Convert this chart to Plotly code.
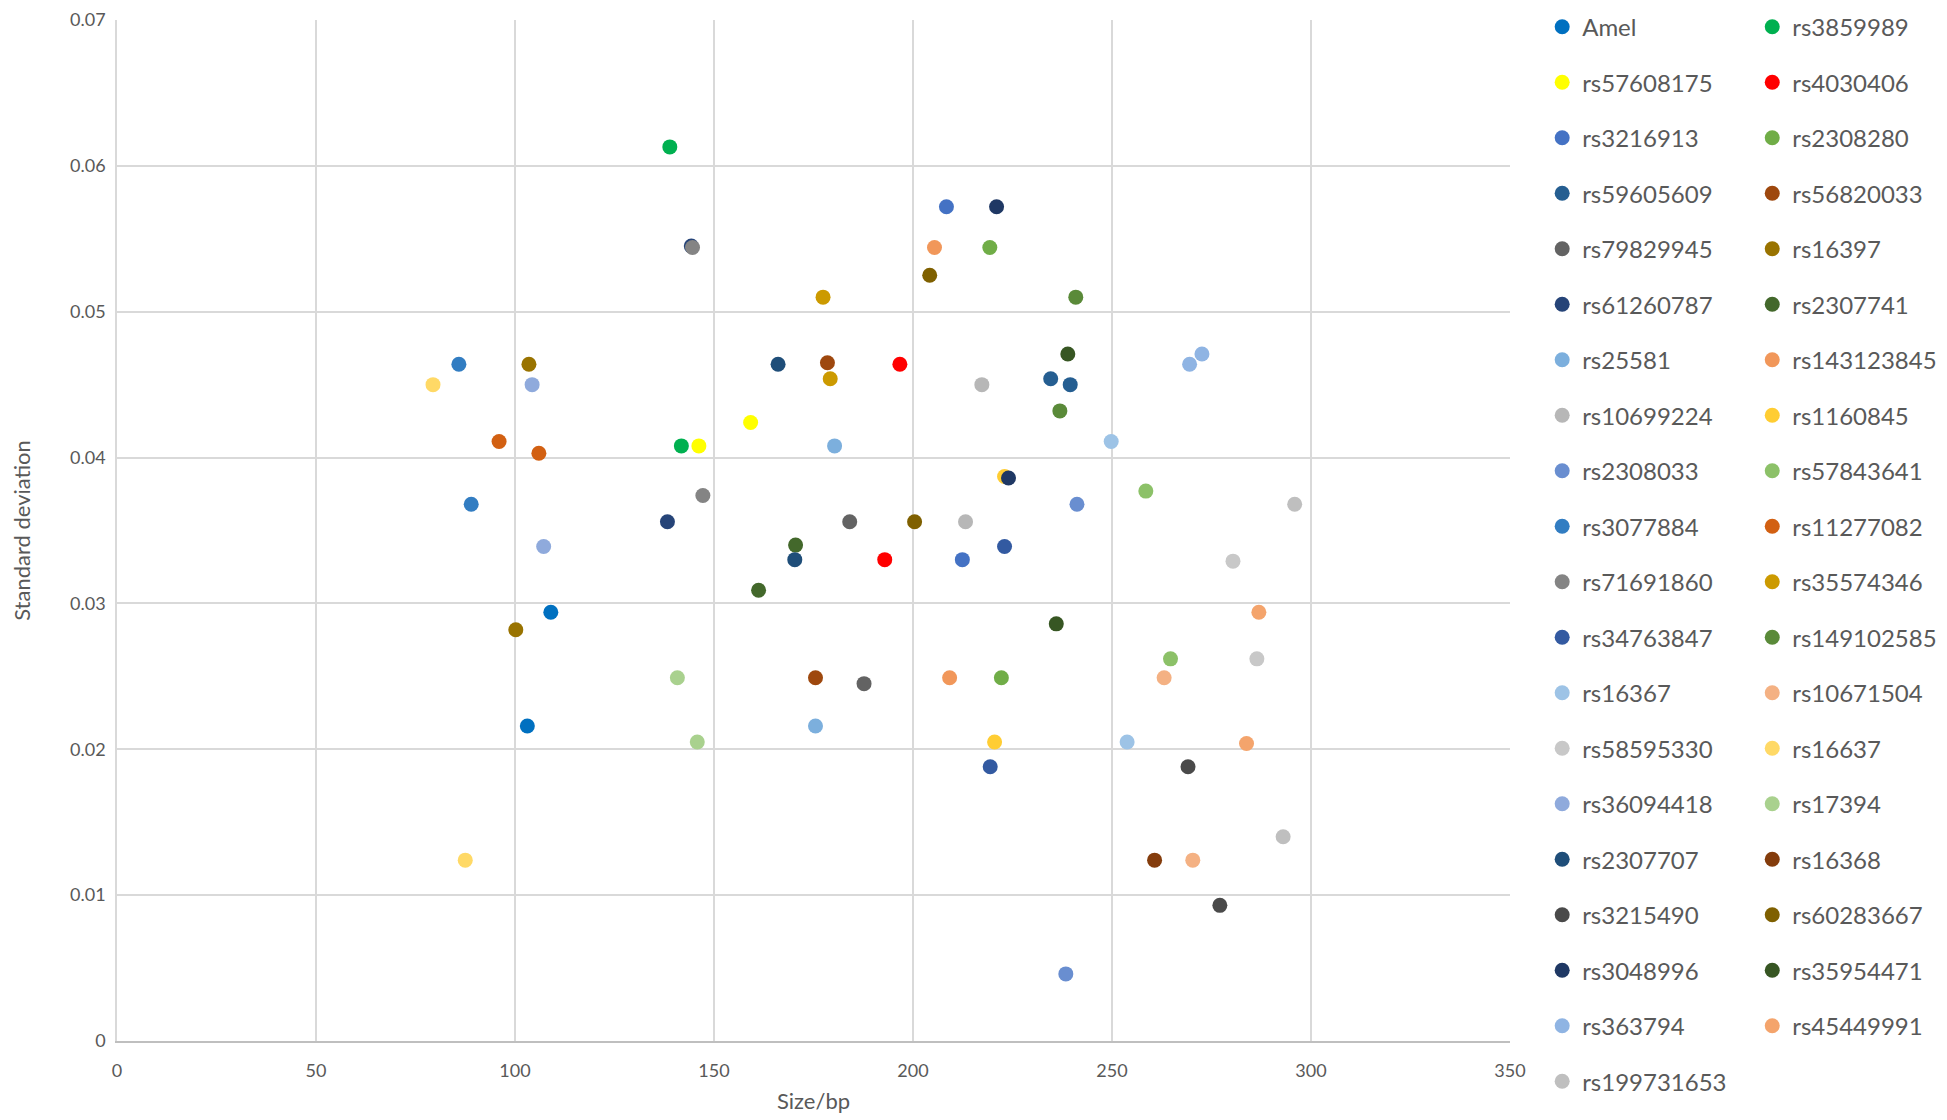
import plotly.graph_objects as go

names = ['Amel', 'rs3859989', 'rs57608175', 'rs4030406', 'rs3216913', 'rs2308280',
         'rs59605609', 'rs56820033', 'rs79829945', 'rs16397', 'rs61260787', 'rs2307741',
         'rs25581', 'rs143123845', 'rs10699224', 'rs1160845', 'rs2308033', 'rs57843641',
         'rs3077884', 'rs11277082', 'rs71691860', 'rs35574346', 'rs34763847', 'rs149102585',
         'rs16367', 'rs10671504', 'rs58595330', 'rs16637', 'rs36094418', 'rs17394',
         'rs2307707', 'rs16368', 'rs3215490', 'rs60283667', 'rs3048996', 'rs35954471',
         'rs363794', 'rs45449991', 'rs199731653']

# allele sizes (bp) per marker
sizes = [[103.1, 109.0], [138.9, 141.8], [146.2, 159.2], [192.9, 196.7], [208.4, 212.4],
         [219.3, 222.2], [234.6, 239.5], [175.5, 178.5], [184.1, 187.7], [100.2, 103.5],
         [138.3, 144.3], [161.2, 170.5], [175.5, 180.3], [205.4, 209.2], [213.2, 217.3],
         [220.5, 223.0], [238.4, 241.2], [258.5, 264.7], [85.9, 89.0], [96.0, 106.0],
         [144.6, 147.2], [177.4, 179.2], [219.4, 223.0], [236.9, 240.9], [249.8, 253.8],
         [263.1, 270.3], [280.4, 286.4], [79.4, 87.5], [104.3, 107.2], [140.8, 145.8],
         [166.1, 170.3], [260.7], [269.1, 277.1], [200.4, 204.2], [221.0, 224.0],
         [236.0, 238.9], [269.5, 272.6], [283.8, 286.9], [293.0, 295.9]]

# standard deviation per allele
sds = [[0.0216, 0.0294], [0.0613, 0.0408], [0.0408, 0.0424], [0.0330, 0.0464], [0.0572, 0.0330],
       [0.0544, 0.0249], [0.0454, 0.0450], [0.0249, 0.0465], [0.0356, 0.0245], [0.0282, 0.0464],
       [0.0356, 0.0545], [0.0309, 0.0340], [0.0216, 0.0408], [0.0544, 0.0249], [0.0356, 0.0450],
       [0.0205, 0.0387], [0.0046, 0.0368], [0.0377, 0.0262], [0.0464, 0.0368], [0.0411, 0.0403],
       [0.0544, 0.0374], [0.0510, 0.0454], [0.0188, 0.0339], [0.0432, 0.0510], [0.0411, 0.0205],
       [0.0249, 0.0124], [0.0329, 0.0262], [0.0450, 0.0124], [0.0450, 0.0339], [0.0249, 0.0205],
       [0.0464, 0.0330], [0.0124], [0.0188, 0.0093], [0.0356, 0.0525], [0.0572, 0.0386],
       [0.0286, 0.0471], [0.0464, 0.0471], [0.0204, 0.0294], [0.0140, 0.0368]]

colors = ['#0070C0', '#00B050', '#FFFF00', '#FF0000', '#4472C4', '#70AD47',
          '#255E91', '#9E480E', '#636363', '#997300', '#264478', '#43682B',
          '#7CAFDD', '#F1975A', '#B7B7B7', '#FFCD33', '#698ED0', '#8CC168',
          '#327DC2', '#D26012', '#848484', '#CC9A00', '#335AA1', '#5A8A39',
          '#9DC3E6', '#F4B183', '#C8C8C8', '#FFD966', '#8FAADC', '#A9D18E',
          '#1F4E79', '#843C0C', '#4A4A4A', '#7F6000', '#1F3864', '#375623',
          '#8FB4E3', '#F4A46C', '#BFBFBF']

y_ticks = [0, 0.01, 0.02, 0.03, 0.04, 0.05, 0.06, 0.07]
y_labels = ['0', '0.01', '0.02', '0.03', '0.04', '0.05', '0.06', '0.07']

fig = go.Figure()
for i, name in enumerate(names):
    fig.add_trace(go.Scatter(
        x=sizes[i], y=sds[i], mode='markers', name=name,
        marker=dict(color=colors[i], size=15),
        legend='legend' if i % 2 == 0 else 'legend2',
        legendgroup=name,
    ))

# two legends side by side -> two columns like the original
legend_style = dict(
    font=dict(family='Lato', size=24, color='#595959'),
    traceorder='grouped', tracegroupgap=21.3, maxheight=1100,
    bgcolor='rgba(0,0,0,0)', yanchor='top', y=1.015, xanchor='left',
)

# page body has an 8px margin, so the figure is a bit smaller than the window
fig.update_layout(
    width=1939, height=1112,
    margin=dict(l=109, r=437, t=12, b=79, autoexpand=False),
    plot_bgcolor='white', paper_bgcolor='white',
    font=dict(family='Lato', size=18, color='#595959'),
    legend=dict(x=1.0231, **legend_style),
    legend2=dict(x=1.1739, **legend_style),
    xaxis=dict(
        range=[0, 350], dtick=50, showgrid=True, gridcolor='#d9d9d9', gridwidth=1.5,
        zeroline=False, showline=True, linecolor='#bfbfbf', linewidth=2,
        ticklabelstandoff=12,
        title=dict(text='Size/bp', font=dict(size=22, color='#595959'), standoff=14),
    ),
    yaxis=dict(
        range=[0, 0.07], tickmode='array', tickvals=y_ticks, ticktext=y_labels,
        showgrid=True, gridcolor='#d9d9d9', gridwidth=1.5,
        zeroline=False, showline=True, linecolor='#d9d9d9', linewidth=1.5,
        ticklabelstandoff=6, ticklabeloverflow='allow',
        title=dict(text='Standard deviation', font=dict(size=22, color='#595959'), standoff=45),
    ),
)

fig.write_html('out.html')
